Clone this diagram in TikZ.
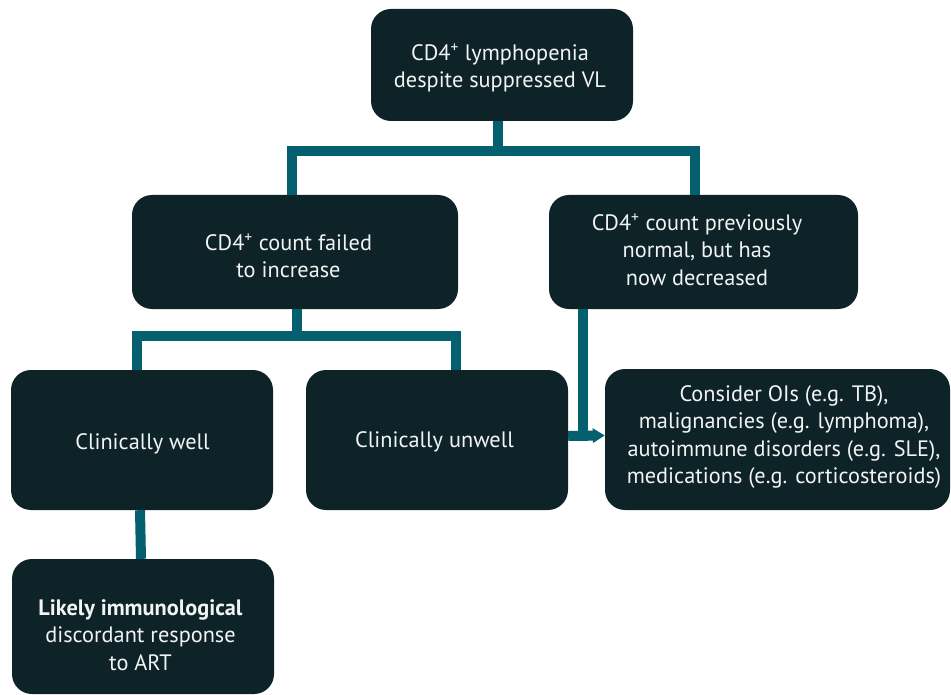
\documentclass[tikz,border=0pt]{standalone}
\usepackage{fontspec}
\setmainfont{PT Sans}
\usetikzlibrary{arrows.meta}
\definecolor{boxfill}{HTML}{0E2328}
\definecolor{linkteal}{HTML}{04606F}
\definecolor{boxtext}{HTML}{F2F4F4}
\tikzset{
  card/.style={rectangle, rounded corners=20pt, fill=boxfill, inner sep=0pt},
  cardtext/.style={text=boxtext, inner sep=0pt, align=center,
    font=\fontsize{22.3}{27.5}\selectfont},
  conn/.style={draw=linkteal, line width=10pt, line join=miter},
  tip/.style={-{Triangle[length=12pt,width=14pt]}}
}
\begin{document}
\begin{tikzpicture}[x=1pt,y=-1pt]
  \useasboundingbox (0,0) rectangle (951,695);

  % boxes
  \node[card, minimum width=262pt, minimum height=112pt] (top) at (502,65) {};
  \node[card, minimum width=326pt, minimum height=114pt] (lm) at (295,252) {};
  \node[card, minimum width=309pt, minimum height=114pt] (rm) at (703.5,252) {};
  \node[card, minimum width=262pt, minimum height=140pt] (well) at (142,440) {};
  \node[card, minimum width=262pt, minimum height=140pt] (unwell) at (437,440) {};
  \node[card, minimum width=345pt, minimum height=141pt] (oi) at (777.5,439.5) {};
  \node[card, minimum width=262pt, minimum height=135pt] (art) at (143,626.5) {};

  % box texts
  \node[cardtext] (topt) at (500,68)
    {CD4\textsuperscript{+} lymphopenia\\despite suppressed VL};
  \node[cardtext] (lmt) at (288.5,256)
    {CD4\textsuperscript{+} count failed\\to increase};
  \node[cardtext] (rmt) at (697,250)
    {CD4\textsuperscript{+} count previously\\normal, but has\\now decreased};
  \node[cardtext] (wellt) at (142.5,444) {Clinically well};
  \node[cardtext] (unwellt) at (434.5,442) {Clinically unwell};
  \node[cardtext] (oit) at (784,437)
    {Consider OIs (e.g. TB),\\malignancies (e.g. lymphoma),\\autoimmune disorders (e.g. SLE),\\medications (e.g. corticosteroids)};
  \node[cardtext] (artt) at (140.5,635)
    {\textbf{Likely immunological}\\discordant response\\to ART};

  % junction points of the tree connectors
  \coordinate (j1) at (498,151);
  \coordinate (j2) at (297,336);
  \coordinate (m) at (583,441);

  % connectors
  \draw[conn] (top.south -| j1) -- (j1);
  \draw[conn] ([xshift=-3pt]lm.north) |- (j1) -| ([xshift=-8.5pt]rm.north);
  \draw[conn] (lm.south -| j2) -- (j2);
  \draw[conn] ([xshift=-5pt]well.north) |- (j2) -| ([xshift=19pt]unwell.north);
  \draw[conn] ([xshift=-2pt]well.south) -- ([xshift=-2pt]art.north);
  \draw[conn] ([xshift=-120.5pt]rm.south) -- (m);
  \draw[conn, tip] ([yshift=4pt]unwell.east) -- ([yshift=4pt]oi.west);
\end{tikzpicture}
\end{document}
